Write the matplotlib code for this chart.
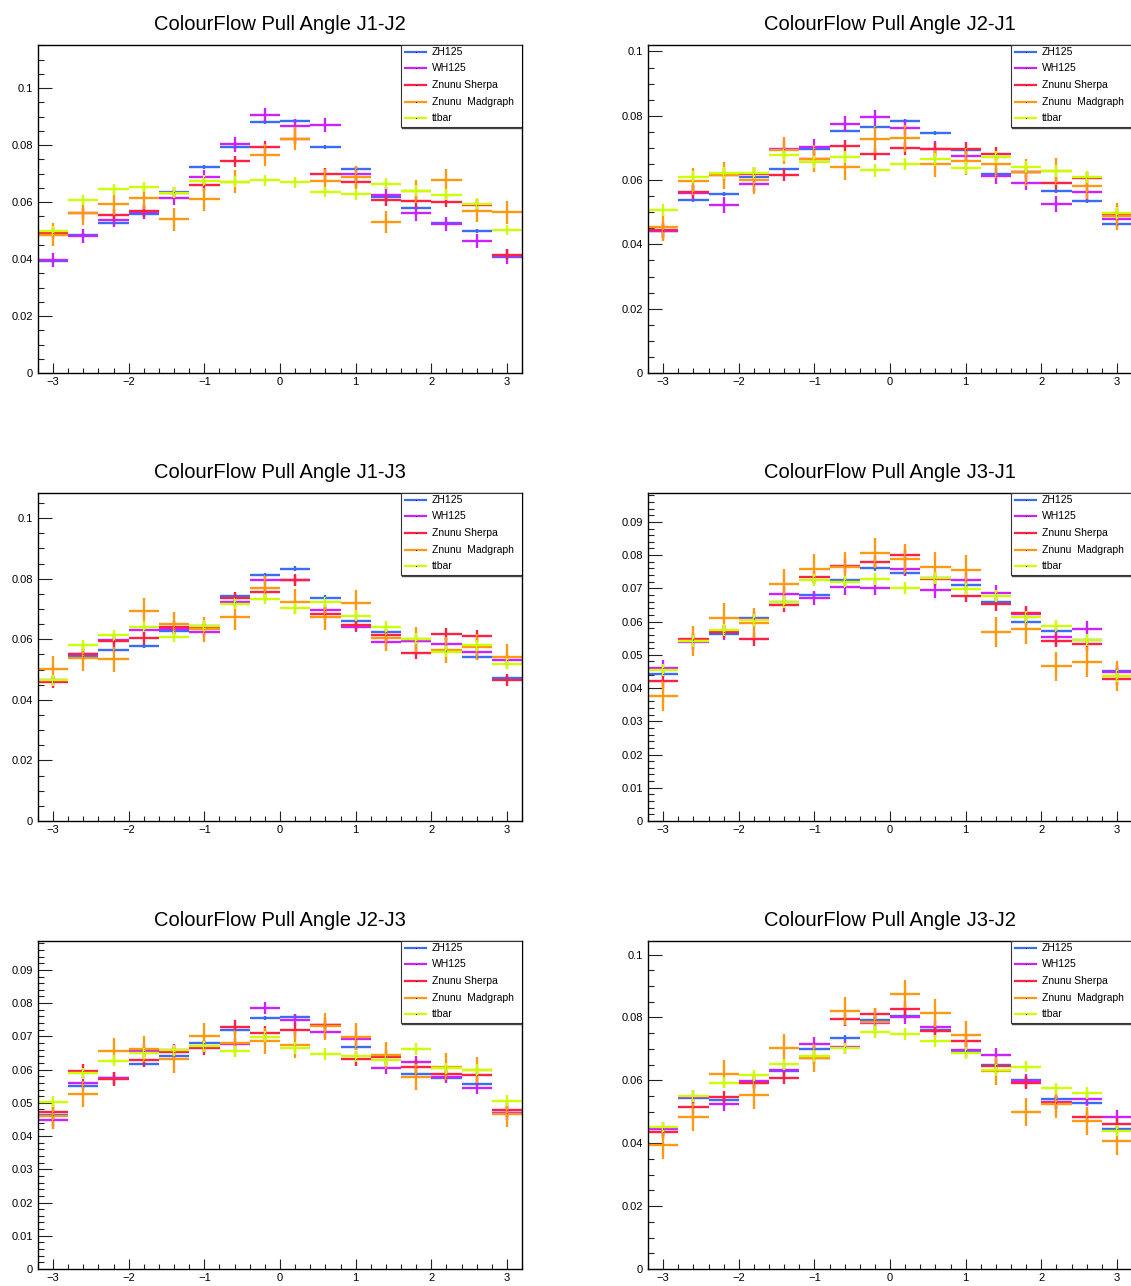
"""ColourFlow pull angle comparisons, six panels (ROOT style)."""
import matplotlib
matplotlib.use("Agg")
import matplotlib.pyplot as plt
from matplotlib.patches import Rectangle
from matplotlib.lines import Line2D
from matplotlib.ticker import MultipleLocator, FuncFormatter
import numpy as np

plt.rcParams.update({
    "font.family": ["Liberation Sans", "DejaVu Sans"],
    "axes.linewidth": 1.0,
})

# ---------------- data ----------------
bin_edges = np.linspace(-3.2, 3.2, 17)
samples = ["ZH125", "WH125", "Znunu Sherpa", "Znunu  Madgraph", "ttbar"]
colors = ["#3b6cf5", "#cc22ff", "#ff2244", "#ff9911", "#ccff00"]

# J1-J2
j1j2_zh = [0.0392, 0.0485, 0.0526, 0.0558, 0.0635, 0.0722, 0.0793, 0.0880, 0.0885, 0.0794, 0.0715, 0.0619, 0.0580, 0.0525, 0.0497, 0.0407]
j1j2_wh = [0.0397, 0.0482, 0.0536, 0.0564, 0.0613, 0.0688, 0.0802, 0.0906, 0.0867, 0.0870, 0.0698, 0.0626, 0.0560, 0.0523, 0.0462, 0.0409]
j1j2_sherpa = [0.0492, 0.0560, 0.0554, 0.0568, 0.0632, 0.0658, 0.0743, 0.0793, 0.0822, 0.0698, 0.0669, 0.0606, 0.0602, 0.0601, 0.0591, 0.0415]
j1j2_madgraph = [0.0485, 0.0560, 0.0594, 0.0615, 0.0540, 0.0610, 0.0671, 0.0765, 0.0822, 0.0675, 0.0687, 0.0530, 0.0637, 0.0676, 0.0570, 0.0564]
j1j2_ttbar = [0.0498, 0.0607, 0.0644, 0.0653, 0.0632, 0.0675, 0.0671, 0.0676, 0.0669, 0.0635, 0.0627, 0.0664, 0.0639, 0.0625, 0.0594, 0.0502]
j1j2_err = [0.0007, 0.0025, 0.0020, 0.0040, 0.0019]

# J2-J1
j2j1_zh = [0.0441, 0.0537, 0.0556, 0.0610, 0.0633, 0.0696, 0.0754, 0.0766, 0.0784, 0.0747, 0.0694, 0.0619, 0.0624, 0.0565, 0.0536, 0.0462]
j2j1_wh = [0.0441, 0.0561, 0.0522, 0.0587, 0.0697, 0.0703, 0.0775, 0.0795, 0.0763, 0.0697, 0.0675, 0.0612, 0.0592, 0.0526, 0.0563, 0.0479]
j2j1_sherpa = [0.0444, 0.0564, 0.0617, 0.0620, 0.0616, 0.0666, 0.0705, 0.0681, 0.0699, 0.0696, 0.0698, 0.0682, 0.0625, 0.0591, 0.0605, 0.0492]
j2j1_madgraph = [0.0453, 0.0597, 0.0615, 0.0599, 0.0692, 0.0666, 0.0642, 0.0727, 0.0730, 0.0651, 0.0659, 0.0649, 0.0625, 0.0627, 0.0583, 0.0487]
j2j1_ttbar = [0.0506, 0.0609, 0.0622, 0.0622, 0.0677, 0.0655, 0.0672, 0.0630, 0.0651, 0.0664, 0.0639, 0.0672, 0.0641, 0.0627, 0.0609, 0.0497]
j2j1_err = [0.0006, 0.0024, 0.0020, 0.0042, 0.0019]

# J1-J3
j1j3_zh = [0.0465, 0.0546, 0.0565, 0.0578, 0.0626, 0.0644, 0.0744, 0.0812, 0.0833, 0.0737, 0.0661, 0.0624, 0.0593, 0.0562, 0.0540, 0.0471]
j1j3_wh = [0.0462, 0.0551, 0.0597, 0.0629, 0.0635, 0.0624, 0.0722, 0.0796, 0.0796, 0.0697, 0.0642, 0.0590, 0.0593, 0.0586, 0.0557, 0.0530]
j1j3_sherpa = [0.0458, 0.0550, 0.0593, 0.0604, 0.0639, 0.0642, 0.0735, 0.0757, 0.0796, 0.0685, 0.0648, 0.0615, 0.0556, 0.0616, 0.0612, 0.0466]
j1j3_madgraph = [0.0503, 0.0537, 0.0534, 0.0695, 0.0649, 0.0633, 0.0674, 0.0770, 0.0724, 0.0673, 0.0721, 0.0603, 0.0600, 0.0565, 0.0575, 0.0543]
j1j3_ttbar = [0.0465, 0.0580, 0.0613, 0.0642, 0.0609, 0.0645, 0.0717, 0.0733, 0.0703, 0.0723, 0.0678, 0.0641, 0.0602, 0.0559, 0.0580, 0.0519]
j1j3_err = [0.0008, 0.0017, 0.0020, 0.0042, 0.0018]

# J3-J1
j3j1_zh = [0.0442, 0.0544, 0.0564, 0.0611, 0.0658, 0.0681, 0.0725, 0.0760, 0.0746, 0.0732, 0.0709, 0.0658, 0.0598, 0.0573, 0.0544, 0.0452]
j3j1_wh = [0.0461, 0.0538, 0.0568, 0.0608, 0.0682, 0.0671, 0.0703, 0.0702, 0.0758, 0.0694, 0.0724, 0.0687, 0.0622, 0.0553, 0.0579, 0.0448]
j3j1_sherpa = [0.0420, 0.0547, 0.0570, 0.0547, 0.0649, 0.0733, 0.0767, 0.0778, 0.0799, 0.0728, 0.0678, 0.0653, 0.0627, 0.0543, 0.0532, 0.0428]
j3j1_madgraph = [0.0376, 0.0543, 0.0611, 0.0595, 0.0712, 0.0757, 0.0765, 0.0806, 0.0788, 0.0765, 0.0754, 0.0569, 0.0579, 0.0465, 0.0479, 0.0436]
j3j1_ttbar = [0.0454, 0.0542, 0.0574, 0.0604, 0.0658, 0.0725, 0.0720, 0.0729, 0.0702, 0.0732, 0.0699, 0.0676, 0.0615, 0.0587, 0.0546, 0.0436]
j3j1_err = [0.0008, 0.0022, 0.0020, 0.0045, 0.0018]

# J2-J3
j2j3_zh = [0.0463, 0.0551, 0.0576, 0.0616, 0.0640, 0.0681, 0.0719, 0.0755, 0.0759, 0.0733, 0.0667, 0.0641, 0.0588, 0.0576, 0.0557, 0.0469]
j2j3_wh = [0.0447, 0.0560, 0.0575, 0.0656, 0.0658, 0.0668, 0.0676, 0.0785, 0.0749, 0.0713, 0.0693, 0.0605, 0.0622, 0.0578, 0.0545, 0.0468]
j2j3_sherpa = [0.0473, 0.0596, 0.0573, 0.0629, 0.0653, 0.0664, 0.0728, 0.0709, 0.0718, 0.0734, 0.0633, 0.0639, 0.0608, 0.0588, 0.0583, 0.0479]
j2j3_madgraph = [0.0461, 0.0527, 0.0656, 0.0662, 0.0631, 0.0701, 0.0679, 0.0686, 0.0675, 0.0730, 0.0699, 0.0643, 0.0578, 0.0609, 0.0599, 0.0467]
j2j3_ttbar = [0.0504, 0.0589, 0.0627, 0.0649, 0.0658, 0.0670, 0.0655, 0.0699, 0.0665, 0.0647, 0.0640, 0.0628, 0.0662, 0.0604, 0.0599, 0.0507]
j2j3_err = [0.0007, 0.0019, 0.0021, 0.0040, 0.0017]

# J3-J2
j3j2_zh = [0.0447, 0.0543, 0.0538, 0.0596, 0.0629, 0.0701, 0.0735, 0.0793, 0.0803, 0.0760, 0.0694, 0.0648, 0.0601, 0.0541, 0.0527, 0.0446]
j3j2_wh = [0.0444, 0.0546, 0.0525, 0.0598, 0.0633, 0.0716, 0.0707, 0.0783, 0.0800, 0.0770, 0.0696, 0.0681, 0.0598, 0.0532, 0.0541, 0.0484]
j3j2_sherpa = [0.0435, 0.0514, 0.0547, 0.0593, 0.0608, 0.0671, 0.0794, 0.0811, 0.0826, 0.0757, 0.0725, 0.0644, 0.0593, 0.0529, 0.0484, 0.0461]
j3j2_madgraph = [0.0394, 0.0484, 0.0619, 0.0554, 0.0702, 0.0671, 0.0820, 0.0786, 0.0874, 0.0814, 0.0743, 0.0629, 0.0499, 0.0524, 0.0470, 0.0408]
j3j2_ttbar = [0.0450, 0.0550, 0.0592, 0.0616, 0.0651, 0.0677, 0.0702, 0.0754, 0.0747, 0.0725, 0.0687, 0.0633, 0.0643, 0.0574, 0.0560, 0.0440]
j3j2_err = [0.0008, 0.0022, 0.0020, 0.0045, 0.0018]

panels = [
    ("J1-J2", [j1j2_zh, j1j2_wh, j1j2_sherpa, j1j2_madgraph, j1j2_ttbar], j1j2_err, 0.1151, 0.02, 0.005),
    ("J2-J1", [j2j1_zh, j2j1_wh, j2j1_sherpa, j2j1_madgraph, j2j1_ttbar], j2j1_err, 0.1020, 0.02, 0.005),
    ("J1-J3", [j1j3_zh, j1j3_wh, j1j3_sherpa, j1j3_madgraph, j1j3_ttbar], j1j3_err, 0.1083, 0.02, 0.005),
    ("J3-J1", [j3j1_zh, j3j1_wh, j3j1_sherpa, j3j1_madgraph, j3j1_ttbar], j3j1_err, 0.0987, 0.01, 0.002),
    ("J2-J3", [j2j3_zh, j2j3_wh, j2j3_sherpa, j2j3_madgraph, j2j3_ttbar], j2j3_err, 0.0987, 0.01, 0.002),
    ("J3-J2", [j3j2_zh, j3j2_wh, j3j2_sherpa, j3j2_madgraph, j3j2_ttbar], j3j2_err, 0.1043, 0.02, 0.005),
]

# ---------------- figure ----------------
W, H = 1131, 1286
fig = plt.figure(figsize=(W / 100, H / 100), dpi=100)

col_x = [38, 648]
row_top = [45, 493, 941]
ax_w, ax_h = 484, 328

centers = 0.5 * (bin_edges[:-1] + bin_edges[1:])
half_w = 0.5 * np.diff(bin_edges)

fmt_y = FuncFormatter(lambda v, p: f"{v:g}")
fmt_x = FuncFormatter(lambda v, p: f"{v:g}".replace("-", "\u2212"))

for i, (name, series, errs, ymax, ymaj, ymin) in enumerate(panels):
    r, c = divmod(i, 2)
    ax = fig.add_axes([col_x[c] / W, 1 - (row_top[r] + ax_h) / H, ax_w / W, ax_h / H])

    for vals, err, col in zip(series, errs, colors):
        ax.errorbar(centers, vals, xerr=half_w, yerr=err, fmt="s", color=col,
                    ecolor=col, elinewidth=1.7, capsize=0, markersize=0.7,
                    markeredgewidth=0, markerfacecolor="black")

    ax.set_xlim(-3.2, 3.2)
    ax.set_ylim(0, ymax)
    ax.xaxis.set_major_locator(MultipleLocator(1))
    ax.xaxis.set_minor_locator(MultipleLocator(0.2))
    ax.yaxis.set_major_locator(MultipleLocator(ymaj))
    ax.yaxis.set_minor_locator(MultipleLocator(ymin))
    ax.xaxis.set_major_formatter(fmt_x)
    ax.yaxis.set_major_formatter(fmt_y)
    ax.tick_params(axis="both", which="both", direction="in", top=False, right=False,
                   labelsize=8, width=0.8, color="#222222")
    ax.tick_params(axis="y", which="major", length=10, pad=3.5)
    ax.tick_params(axis="y", which="minor", length=4.3)
    ax.tick_params(axis="x", which="major", length=7, pad=3)
    ax.tick_params(axis="x", which="minor", length=3.6)

    ax.set_title(f"ColourFlow Pull Angle {name}", fontsize=14.5, pad=10.5)

    # ROOT style legend box in the upper right corner
    ax.add_patch(Rectangle((0.75, 0.75), 0.25, 0.25, transform=ax.transAxes,
                           facecolor="white", edgecolor="#333333", linewidth=0.8,
                           zorder=5))
    ax.add_line(Line2D([0.752, 1.0], [0.748, 0.748], transform=ax.transAxes,
                       color="#444444", linewidth=1.0, zorder=5))
    for k, (lab, col) in enumerate(zip(samples, colors)):
        yy = 0.979 - k * 0.0505
        ax.add_line(Line2D([0.758, 0.802], [yy, yy], transform=ax.transAxes,
                           color=col, linewidth=1.6, zorder=6))
        ax.add_line(Line2D([0.780], [yy], transform=ax.transAxes, marker="s",
                           markersize=0.7, markeredgewidth=0, color="black", zorder=7))
        ax.text(0.814, yy, lab, transform=ax.transAxes, fontsize=7.5,
                va="center", ha="left", zorder=7)

fig.savefig("out.png", dpi=100)
